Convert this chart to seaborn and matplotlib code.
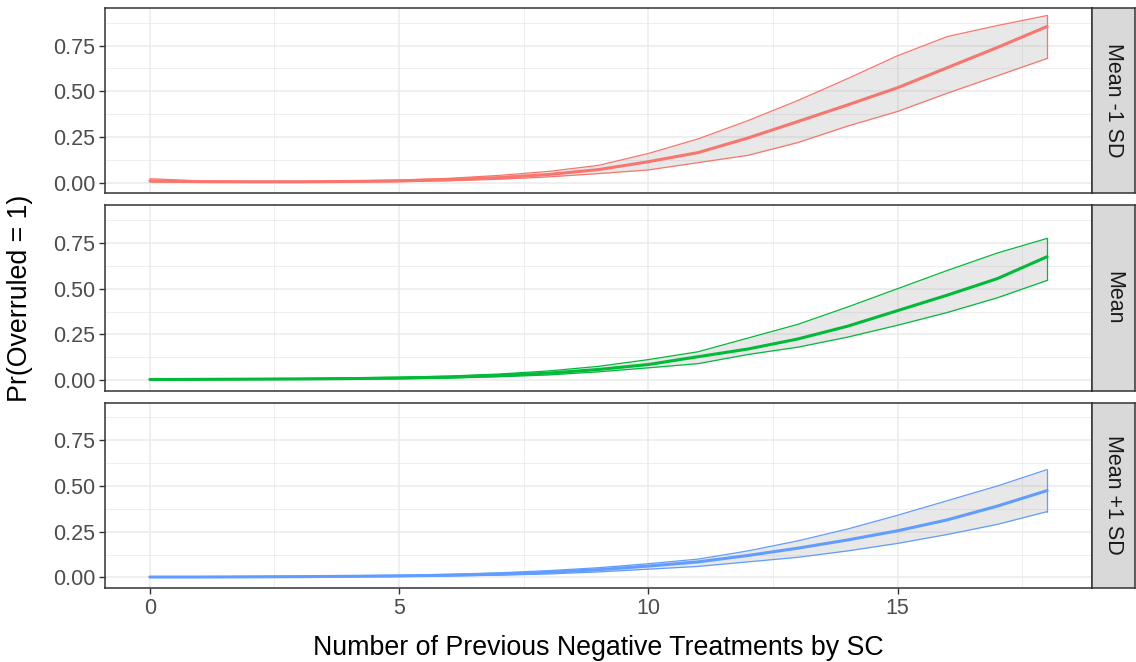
import numpy as np
import pandas as pd
import matplotlib
matplotlib.use("Agg")
import matplotlib.pyplot as plt
import seaborn as sns

# ---- data ----
x_vals = list(range(0, 19))
panels = ["Mean -1 SD", "Mean", "Mean +1 SD"]
colors = ["#F8766D", "#00BA38", "#619CFF"]

minus_mean = [0.010, 0.006, 0.005, 0.005, 0.007, 0.010, 0.017, 0.028, 0.045, 0.072, 0.115, 0.165,
              0.245, 0.335, 0.426, 0.520, 0.630, 0.740, 0.855]
minus_hi = [0.022, 0.010, 0.008, 0.008, 0.010, 0.015, 0.024, 0.040, 0.062, 0.095, 0.160, 0.240,
            0.340, 0.450, 0.570, 0.695, 0.800, 0.860, 0.915]
minus_lo = [0.004, 0.003, 0.003, 0.003, 0.004, 0.006, 0.011, 0.019, 0.032, 0.050, 0.070, 0.110,
            0.150, 0.220, 0.310, 0.390, 0.490, 0.585, 0.680]

mean_mean = [0.003, 0.004, 0.005, 0.006, 0.008, 0.011, 0.016, 0.025, 0.038, 0.058, 0.085, 0.128,
             0.170, 0.225, 0.295, 0.380, 0.465, 0.555, 0.675]
mean_hi = [0.006, 0.007, 0.008, 0.009, 0.012, 0.016, 0.022, 0.033, 0.050, 0.075, 0.112, 0.155,
           0.230, 0.305, 0.400, 0.500, 0.600, 0.695, 0.775]
mean_lo = [0.001, 0.002, 0.003, 0.004, 0.005, 0.007, 0.011, 0.018, 0.028, 0.045, 0.067, 0.090,
           0.140, 0.180, 0.235, 0.300, 0.370, 0.450, 0.545]

plus_mean = [0.002, 0.002, 0.003, 0.004, 0.006, 0.008, 0.012, 0.018, 0.028, 0.042, 0.062, 0.085,
             0.120, 0.160, 0.205, 0.255, 0.315, 0.390, 0.475]
plus_hi = [0.004, 0.004, 0.005, 0.007, 0.009, 0.012, 0.017, 0.025, 0.037, 0.053, 0.075, 0.100,
           0.145, 0.200, 0.265, 0.340, 0.420, 0.500, 0.590]
plus_lo = [0.001, 0.001, 0.002, 0.002, 0.003, 0.005, 0.008, 0.012, 0.019, 0.030, 0.045, 0.060,
           0.085, 0.110, 0.145, 0.186, 0.235, 0.290, 0.360]

x_ticks = [0, 5, 10, 15]
x_tick_labels = ["0", "5", "10", "15"]
y_ticks = [0.0, 0.25, 0.5, 0.75]
y_tick_labels = ["0.00", "0.25", "0.50", "0.75"]

series = {
    "Mean -1 SD": (minus_mean, minus_lo, minus_hi),
    "Mean": (mean_mean, mean_lo, mean_hi),
    "Mean +1 SD": (plus_mean, plus_lo, plus_hi),
}

rows = []
for p in panels:
    m, lo, hi = series[p]
    for i, xv in enumerate(x_vals):
        rows.append({"panel": p, "x": xv, "mean": m[i], "lo": lo[i], "hi": hi[i]})
df = pd.DataFrame(rows)

# ---- style ----
sns.set_theme(style="white")
plt.rcParams["font.family"] = ["Liberation Sans", "DejaVu Sans"]

W, H = 1136, 662
fig = plt.figure(figsize=(W / 100, H / 100), dpi=100)

left_px, right_px = 105, 1092
top_px, bottom_px = 8, 588
gap = 12
ph = (bottom_px - top_px - 2 * gap) / 3
strip_right = 1135

tick_size = 15.5
title_size = 19.3
dark = "#333333"

axes = []
for k, p in enumerate(panels):
    t = top_px + k * (ph + gap)
    b = t + ph
    ax = fig.add_axes([left_px / W, 1 - b / H, (right_px - left_px) / W, ph / H])
    axes.append(ax)
    sub = df[df["panel"] == p]
    ax.fill_between(sub["x"], sub["lo"], sub["hi"], color="#999999", alpha=0.22, lw=0, zorder=2)
    sns.lineplot(data=sub, x="x", y="lo", ax=ax, color=colors[k], lw=0.9, zorder=3)
    sns.lineplot(data=sub, x="x", y="hi", ax=ax, color=colors[k], lw=0.9, zorder=3)
    sns.lineplot(data=sub, x="x", y="mean", ax=ax, color=colors[k], lw=2.2, zorder=4)
    # closing vertical edge at the right end of the ribbon
    last = sub.iloc[-1]
    ax.plot([last["x"], last["x"]], [last["lo"], last["hi"]], color=colors[k], lw=0.9, zorder=3)

    ax.set_xlim(-0.9, 18.9)
    ax.set_ylim(-0.058, 0.956)
    ax.set_xticks(x_ticks)
    ax.set_xticks([2.5, 7.5, 12.5, 17.5], minor=True)
    ax.set_yticks(y_ticks)
    ax.set_yticks([0.125, 0.375, 0.625, 0.875], minor=True)
    ax.set_yticklabels(y_tick_labels)
    ax.grid(which="major", color="#ebebeb", lw=1.1, zorder=0)
    ax.grid(which="minor", color="#ebebeb", lw=0.6, zorder=0)
    ax.set_axisbelow(True)
    for s in ax.spines.values():
        s.set_color(dark)
        s.set_linewidth(1.1)
    ax.tick_params(axis="both", which="major", length=4, width=1, color=dark,
                   labelcolor="#4d4d4d", labelsize=tick_size, pad=3, direction="out",
                   left=True, bottom=(k == 2))
    ax.tick_params(axis="both", which="minor", length=0)
    ax.set_xlabel("")
    ax.set_ylabel("")
    if k < 2:
        ax.set_xticklabels([])
    else:
        ax.set_xticklabels(x_tick_labels)

    # strip
    sax = fig.add_axes([right_px / W, 1 - b / H, (strip_right - right_px) / W, ph / H])
    sax.set_facecolor("#d9d9d9")
    sax.set_xticks([])
    sax.set_yticks([])
    for s in sax.spines.values():
        s.set_color(dark)
        s.set_linewidth(1.1)
    sax.text(0.5, 0.5, p, rotation=270, ha="center", va="center", color="#1a1a1a",
             fontsize=tick_size, transform=sax.transAxes)

fig.text((left_px + right_px) / 2 / W, 1 - 648 / H, "Number of Previous Negative Treatments by SC",
         ha="center", va="center", fontsize=title_size, color="black")
fig.text(20 / W, 1 - 298 / H, "Pr(Overruled = 1)", rotation=90, ha="center", va="center",
         fontsize=title_size, color="black")

fig.savefig("out.png", dpi=100, facecolor="white")
